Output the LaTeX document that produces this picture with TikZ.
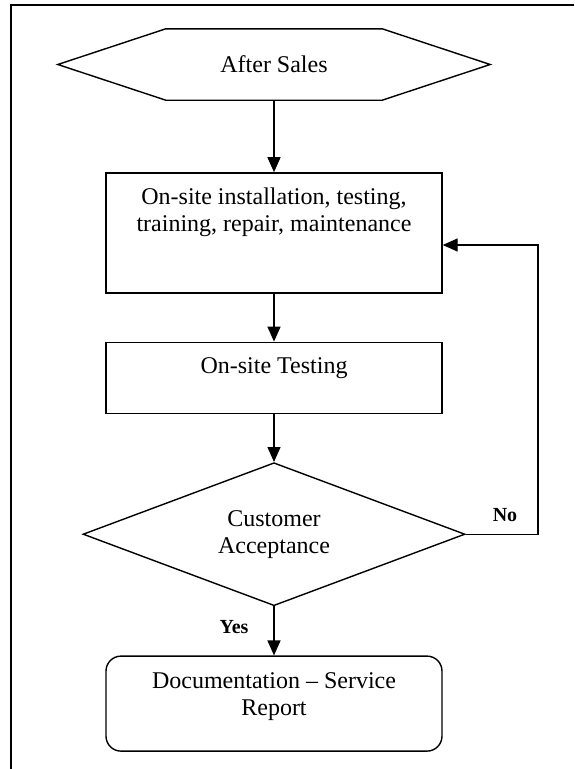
\documentclass[tikz,border=0pt]{standalone}
\usepackage{fontspec}
\setmainfont{Liberation Serif}
\usetikzlibrary{shapes.geometric,arrows.meta,positioning}
\tikzstyle{process} = [draw, line width=1.4pt, rectangle,
    minimum width=336pt, inner sep=0pt]
\tikzstyle{decision} = [draw, line width=1.4pt, diamond, aspect=2.67,
    minimum width=382pt, minimum height=143pt, inner sep=0pt]
\tikzstyle{terminal} = [process, rounded corners=15pt, minimum height=95pt]
\tikzstyle{boxtext} = [align=center, font=\fontsize{24}{27}\selectfont, inner sep=0pt]
\tikzstyle{answer} = [font=\fontsize{20}{24}\selectfont\bfseries, inner sep=0pt]
\tikzstyle{flow} = [line width=1.4pt, ->]

\begin{document}
\begin{tikzpicture}[x=1pt, y=-1pt, >={Triangle[length=15pt,width=13pt]}]
      \useasboundingbox (0,0) rectangle (574,769);
      % frame, only its top and left edges are in the picture
      \draw[line width=1.5pt] (11,769) -- (11,5) -- (574,5);

      % We start by placing the blocks
      \node[boxtext, minimum width=216pt, minimum height=71pt] at (274,64.5) (aftersales) {After Sales};
      \draw[line width=1.4pt] (aftersales.north west) -- (aftersales.north east)
          -- ([xshift=108pt]aftersales.east) -- (aftersales.south east)
          -- (aftersales.south west) -- ([xshift=-108pt]aftersales.west) -- cycle;
      \node[process, minimum height=120pt, below=72pt of aftersales] (install) {};
      \node[process, minimum height=71pt, below=48pt of install] (testing) {};
      \node[decision, boxtext, below=48pt of testing] (accept) {Customer\\Acceptance};
      \node[terminal, below=49pt of accept] (report) {};

      % texts sit near the top of their boxes (base = last line)
      \node[boxtext, anchor=base] at (274,231) (installtxt) {On-site installation, testing,\\training, repair, maintenance};
      \node[boxtext, anchor=base] at (274,373) (testingtxt) {On-site Testing};
      \node[boxtext, anchor=base] at (274,715) (reporttxt) {Documentation -- Service\\Report};

      % main line
      \draw[flow] (aftersales) -- (install);
      \draw[flow] (install) -- (testing);
      \draw[flow] (testing) -- (accept);
      \draw[flow] (accept) -- (report);
      \node[answer] at (234,627) (yes) {Yes};

      % back to the work when not accepted
      \coordinate (loopturn) at (538,245);
      \draw[flow] (accept.east) -| (loopturn) -- (loopturn -| install.east);
      \node[answer] at (505,515) (no) {No};
  \end{tikzpicture}
\end{document}
